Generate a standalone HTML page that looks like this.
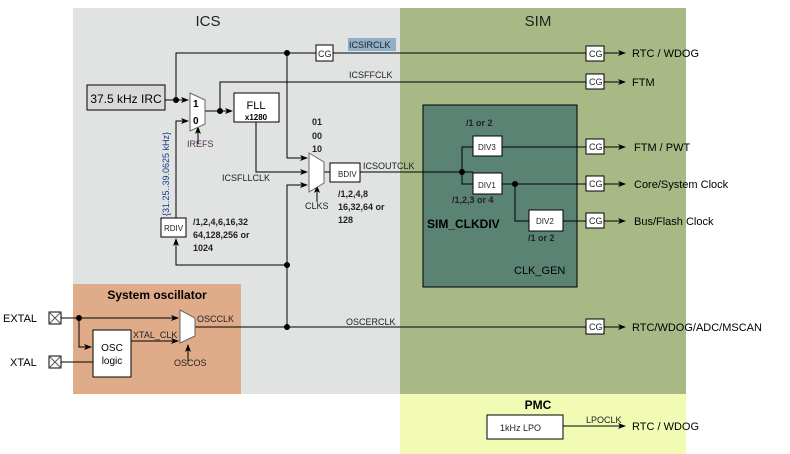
<!DOCTYPE html>
<html><head><style>body{margin:0;background:#fff}svg{display:block;font-family:"Liberation Sans",sans-serif}</style></head><body>
<svg width="790" height="454" viewBox="0 0 790 454" xmlns="http://www.w3.org/2000/svg">
<defs><marker id="a" markerWidth="8" markerHeight="6" refX="7" refY="3" orient="auto" markerUnits="userSpaceOnUse"><path d="M0,0L8,3L0,6L2,3z" fill="#000"/></marker></defs>
<rect x="73" y="8" width="327" height="386" fill="#e1e3e3"/>
<rect x="400" y="8" width="286" height="386" fill="#a8b986"/>
<rect x="400" y="394" width="286" height="60" fill="#f2fbb4"/>
<rect x="73" y="284" width="168" height="110" fill="#dfab89"/>
<text x="208" y="26" font-size="15" text-anchor="middle" fill="#222">ICS</text>
<text x="538" y="26" font-size="15" text-anchor="middle" fill="#222">SIM</text>
<text x="538" y="409" font-size="12" font-weight="bold" text-anchor="middle">PMC</text>
<text x="157" y="299" font-size="12" font-weight="bold" text-anchor="middle">System oscillator</text>
<rect x="423" y="105" width="154" height="182" fill="#5a8373" stroke="#000"/>
<text x="427" y="228" font-size="12" font-weight="bold">SIM_CLKDIV</text>
<text x="514" y="274" font-size="11">CLK_GEN</text>
<g stroke="#000" fill="none" stroke-width="1">
<path d="M165,100H188" marker-end="url(#a)"/>
<path d="M176,100V53H316"/><path d="M333,53H586"/><path d="M604,53H625" marker-end="url(#a)"/>
<path d="M205,111H232" marker-end="url(#a)"/>
<path d="M220,111V82H586"/><path d="M604,82H625" marker-end="url(#a)"/>
<path d="M287,53V158H307" marker-end="url(#a)"/>
<path d="M256,122V172H307" marker-end="url(#a)"/>
<path d="M287,327V185H307" marker-end="url(#a)"/>
<path d="M324,172H330"/><path d="M360,172H473" />
<path d="M462,172V147H473"/><path d="M462,172V184H473"/>
<path d="M502,147H586"/><path d="M502,184H586"/><path d="M515,184V221H529"/><path d="M563,221H586"/>
<path d="M604,147H625" marker-end="url(#a)"/><path d="M604,184H625" marker-end="url(#a)"/><path d="M604,221H625" marker-end="url(#a)"/>
<path d="M287,265H176V239" marker-end="url(#a)"/>
<path d="M176,218V121H188" marker-end="url(#a)"/>
<path d="M198,144V127" marker-end="url(#a)"/>
<path d="M317,202V186" marker-end="url(#a)"/>
<path d="M61,318H178" marker-end="url(#a)"/>
<path d="M79,318V347H91" marker-end="url(#a)"/>
<path d="M61,362H93"/>
<path d="M131,341H178" marker-end="url(#a)"/>
<path d="M188,362V345" marker-end="url(#a)"/>
<path d="M195,327H586"/><path d="M604,327H625" marker-end="url(#a)"/>
<path d="M563,426H625" marker-end="url(#a)"/>
</g>
<g fill="#000"><circle cx="176" cy="100" r="3"/><circle cx="287" cy="53" r="3"/><circle cx="220" cy="111" r="3"/><circle cx="287" cy="265" r="3"/><circle cx="287" cy="327" r="3"/><circle cx="462" cy="172" r="3"/><circle cx="515" cy="184" r="3"/><circle cx="79" cy="318" r="3"/></g>
<g stroke="#000" fill="#fff">
<rect x="87" y="85" width="78" height="25" fill="#d9d9d9"/>
<path d="M190,93L205,100V124L190,131Z" stroke="#666"/>
<rect x="234" y="93" width="45" height="29"/>
<path d="M309,153L324,162V183L309,192Z" stroke="#666"/>
<rect x="330" y="163" width="30" height="19"/>
<rect x="161" y="218" width="25" height="19"/>
<rect x="316" y="45" width="17" height="16"/>
<rect x="586" y="46" width="18" height="15"/><rect x="586" y="74" width="18" height="15"/>
<rect x="586" y="139" width="18" height="15"/><rect x="586" y="176" width="18" height="15"/><rect x="586" y="213" width="18" height="15"/><rect x="586" y="319" width="18" height="15"/>
<rect x="473" y="136" width="29" height="20"/><rect x="473" y="173" width="29" height="21"/><rect x="529" y="210" width="34" height="21"/>
<rect x="93" y="330" width="38" height="47"/>
<path d="M180,310L195,318V336L180,343Z" stroke="#666"/>
<rect x="49" y="312" width="12" height="12"/><rect x="49" y="356" width="12" height="12"/>
<rect x="487" y="415" width="76" height="24"/>
</g>
<path d="M49,312L61,324M61,312L49,324M49,356L61,368M61,356L49,368" stroke="#555"/>
<rect x="348" y="38" width="48" height="13" fill="#8fb0c8"/>
<g font-size="9" fill="#222">
<text x="349" y="48">ICSIRCLK</text><text x="349" y="78">ICSFFCLK</text>
<text x="222" y="181">ICSFLLCLK</text><text x="363" y="169">ICSOUTCLK</text>
<text x="187" y="147" fill="#553355">IREFS</text><text x="305" y="209">CLKS</text>
<text x="338" y="177" font-size="8">BDIV</text><text x="164" y="231" font-size="8">RDIV</text>
<text x="478" y="150" font-size="8">DIV3</text><text x="478" y="188" font-size="8">DIV1</text><text x="536" y="224" font-size="8">DIV2</text>
<text x="589" y="57" font-size="9">CG</text><text x="589" y="85">CG</text><text x="589" y="150">CG</text><text x="589" y="187">CG</text><text x="589" y="224">CG</text><text x="589" y="330">CG</text><text x="318" y="57">CG</text>
<text x="346" y="325">OSCERCLK</text><text x="197" y="322">OSCCLK</text><text x="133" y="338">XTAL_CLK</text><text x="174" y="366">OSCOS</text>
<text x="586" y="423">LPOCLK</text><text x="500" y="431">1kHz LPO</text>
</g>
<text x="126" y="103" font-size="12" text-anchor="middle">37.5 kHz IRC</text>
<text x="256" y="109" font-size="11" text-anchor="middle">FLL</text>
<text x="256" y="120" font-size="8" font-weight="bold" text-anchor="middle">x1280</text>
<text x="193" y="107" font-size="10" font-weight="bold">1</text><text x="193" y="124" font-size="10" font-weight="bold">0</text>
<text x="112" y="351" font-size="10" text-anchor="middle">OSC</text><text x="112" y="364" font-size="10" text-anchor="middle">logic</text>
<g font-size="9" font-weight="bold" fill="#222">
<text x="312" y="125">01</text><text x="312" y="139">00</text><text x="312" y="152">10</text>
<text x="338" y="197">/1,2,4,8</text><text x="338" y="210">16,32,64 or</text><text x="338" y="223">128</text>
<text x="193" y="225">/1,2,4,6,16,32</text><text x="193" y="238">64,128,256 or</text><text x="193" y="251">1024</text>
<text x="466" y="126">/1 or 2</text><text x="452" y="203">/1,2,3 or 4</text><text x="528" y="241">/1 or 2</text>
</g>
<text transform="translate(169,216) rotate(-90)" font-size="9" fill="#1a3a8a">{31.25..39.0625 kHz}</text>
<g font-size="11" fill="#000">
<text x="632" y="57">RTC / WDOG</text><text x="632" y="86">FTM</text><text x="634" y="151">FTM / PWT</text><text x="634" y="188">Core/System Clock</text><text x="634" y="225">Bus/Flash Clock</text><text x="632" y="331">RTC/WDOG/ADC/MSCAN</text><text x="632" y="430">RTC / WDOG</text>
<text x="3" y="322">EXTAL</text><text x="10" y="366">XTAL</text>
</g>
</svg>
</body></html>
